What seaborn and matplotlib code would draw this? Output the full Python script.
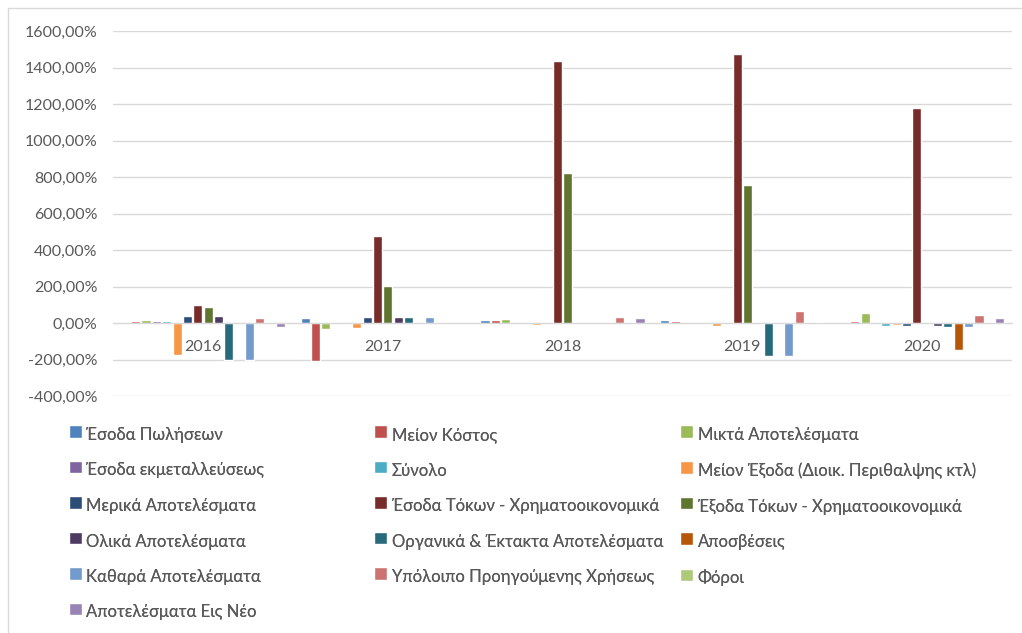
import matplotlib
matplotlib.use("Agg")
import matplotlib.pyplot as plt
from matplotlib.lines import Line2D
from matplotlib.ticker import FuncFormatter
import seaborn as sns
import pandas as pd

# categories
years = ["2016", "2017", "2018", "2019", "2020"]

series = [
    "Έσοδα Πωλήσεων",
    "Μείον Κόστος",
    "Μικτά Αποτελέσματα",
    "Έσοδα εκμεταλλεύσεως",
    "Σύνολο",
    "Μείον Έξοδα (Διοικ. Περιθαλψης κτλ)",
    "Μερικά Αποτελέσματα",
    "Έσοδα Τόκων - Χρηματοοικονομικά",
    "Έξοδα Τόκων - Χρηματοοικονομικά",
    "Ολικά Αποτελέσματα",
    "Οργανικά & Έκτακτα Αποτελέσματα",
    "Αποσβέσεις",
    "Καθαρά Αποτελέσματα",
    "Υπόλοιπο Προηγούμενης Χρήσεως",
    "Φόροι",
    "Αποτελέσματα Εις Νέο",
]

# values in %, one list per year, same order as series
v2016 = [0, 9, 18, 12, 12, -175, 36, 97, 85, 36, -200, 0, -200, 25, 0, -22]
v2017 = [26, -210, -33, 0, 0, -30, 31, 479, 201, 31, 31, 0, 31, 0, 0, 0]
v2018 = [18, 18, 24, 0, 0, -10, 0, 1435, 822, 0, 0, 0, 0, 35, 0, 29]
v2019 = [18, 12, 0, 0, 0, -15, 0, 1475, 756, 0, -183, 0, -183, 68, 0, 7]
v2020 = [0, 12, 57, 0, -18, -10, -18, 1180, 0, -18, -24, -148, -24, 42, 0, 29]

palette = [
    "#4F81BD", "#C0504D", "#9BBB59", "#8064A2", "#4BACC6", "#F79646",
    "#2C4D75", "#772C2A", "#5F7530", "#4D3B62", "#276A7C", "#B65708",
    "#729ACA", "#CD7371", "#AFC97A", "#9983B5",
]

rows = []
for year, vals in zip(years, [v2016, v2017, v2018, v2019, v2020]):
    for name, v in zip(series, vals):
        rows.append({"year": year, "series": name, "value": v})
df = pd.DataFrame(rows)

sns.set_style("white")
plt.rcParams["font.family"] = ["Lato", "DejaVu Sans"]
text_col = "#595959"
grid_col = "#D9D9D9"

fig = plt.figure(figsize=(10.22, 6.33), dpi=100)
ax = fig.add_axes([113 / 1022, 1 - 396 / 633, (1012 - 113) / 1022, (396 - 31) / 633])

sns.barplot(data=df, x="year", y="value", hue="series", order=years,
            hue_order=series, palette=palette, width=0.92, gap=0.12,
            errorbar=None, saturation=1, ax=ax)

ax.set_ylim(-400, 1600)
ax.set_yticks(range(-400, 1601, 200))
ax.yaxis.set_major_formatter(FuncFormatter(lambda v, p: f"{v:.2f}%".replace(".", ",")))
ax.grid(axis="y", color=grid_col, linewidth=1)
ax.set_axisbelow(True)
for s in ["top", "right", "left"]:
    ax.spines[s].set_visible(False)
ax.spines["bottom"].set_position(("data", 0))
ax.spines["bottom"].set_color(grid_col)
ax.tick_params(axis="y", length=0, pad=11, labelsize=11.5, labelcolor=text_col)
ax.tick_params(axis="x", length=0, pad=12, labelsize=11.5, labelcolor=text_col)
ax.set_xlabel("")
ax.set_ylabel("")
ax.set_xlim(-0.5, 4.5)

# legend: Excel fills rows first in three equal columns
handles, labels = ax.get_legend_handles_labels()
ax.get_legend().remove()
col_x = [69, 374, 680]
for c in range(3):
    idx = list(range(c, len(series), 3))
    leg = fig.legend([handles[i] for i in idx], [labels[i] for i in idx],
                     ncol=1, loc="upper left",
                     bbox_to_anchor=(col_x[c] / 1022, 1 - 427 / 633),
                     frameon=False, fontsize=12, labelcolor=text_col,
                     borderpad=0, borderaxespad=0,
                     handlelength=0.7, handleheight=0.55, handletextpad=0.35,
                     labelspacing=1.17)
    for h in leg.legend_handles:
        h.set_height(9)
        h.set_width(9)
        h.set_y(h.get_y() + 1)
    fig.add_artist(leg)

# chart border
fig.add_artist(Line2D([8 / 1022, 8 / 1022], [0, 1 - 8 / 633], color=grid_col, lw=1))
fig.add_artist(Line2D([8 / 1022, 1], [1 - 8 / 633, 1 - 8 / 633], color=grid_col, lw=1))

fig.savefig("out.png", dpi=100)
